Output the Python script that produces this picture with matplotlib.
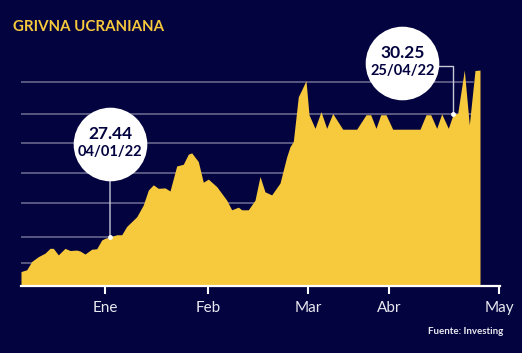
import matplotlib
matplotlib.use("Agg")
import matplotlib.pyplot as plt
from matplotlib.transforms import offset_copy

# ---- data (positions along the time axis) ----
x_pos = [0, 5.7, 10.7, 17.3, 24, 29, 32.3, 37.3, 44, 49, 55.7, 59, 64, 70.7, 75.7,
         80.7, 84, 89, 95.7, 100.7, 105.7, 115.7, 122.3, 127.3, 132.3, 137.3, 144,
         149, 155.7, 162.3, 167.3, 170.7, 177.3, 182.3, 187.3, 195.7, 205.7, 210.7,
         217.3, 220.7, 227.3, 234, 239, 244, 250.7, 259, 265.7, 269, 272.3, 277.3,
         280.7, 285, 288, 294, 300, 305.7, 311.7, 321.7, 335.7, 345, 349.7, 355,
         359.7, 365, 371.7, 399, 405, 409.7, 415.7, 420.7, 427.3, 432.3, 436.7,
         443.3, 448.3, 454, 459]
values = [26.65, 26.69, 26.88, 26.99, 27.07, 27.18, 27.18, 27.03, 27.18, 27.13, 27.14,
          27.12, 27.05, 27.16, 27.17, 27.37, 27.41, 27.44, 27.49, 27.49, 27.68, 27.90,
          28.17, 28.51, 28.63, 28.55, 28.56, 28.49, 29.06, 29.10, 29.33, 29.36, 29.16,
          28.69, 28.76, 28.59, 28.28, 28.06, 28.12, 28.06, 28.06, 28.28, 28.82, 28.47,
          28.40, 28.67, 29.27, 29.50, 29.62, 30.64, 30.80, 31.01, 30.23, 29.92, 30.30,
          29.92, 30.26, 29.90, 29.90, 30.23, 30.23, 29.92, 30.23, 30.23, 29.90, 29.90,
          30.23, 30.23, 29.92, 30.25, 29.92, 30.25, 30.26, 31.25, 30.00, 31.24, 31.25]

tick_pos = [84.3, 187.3, 287.3, 368.3, 478]
tick_labels = ["Ene", "Feb", "Mar", "Abr", "May"]
grid_vals = [26.84, 27.44, 28.21, 28.89, 29.58, 30.25, 30.97]

callout_idx = [17, 71]
callout_value_txt = ["27.44", "30.25"]
callout_date_txt = ["04/01/22", "25/04/22"]

title = "GRIVNA UCRANIANA"
source = "Fuente: Investing"

# ---- style ----
BG = "#03033f"
YELLOW = "#f7c93c"
GRID = "#6f6f94"
WHITE = "#ffffff"
TXT = "#e8e8f0"
plt.rcParams["font.family"] = ["Lato", "DejaVu Sans"]

fig = plt.figure(figsize=(5.22, 3.53), dpi=100, facecolor=BG)
ax = fig.add_axes([21 / 522, 67 / 353, 479 / 522, 226 / 353])
ax.set_facecolor(BG)
ax.set_xlim(0, 479)
ax.set_ylim(26.32, 31.48)

for g in grid_vals:
    ax.plot([0, 452], [g, g], color=GRID, lw=1.1, zorder=1)

ax.fill_between(x_pos, values, 26.32, color=YELLOW, lw=0, zorder=2)

for s in ["top", "right", "left"]:
    ax.spines[s].set_visible(False)
ax.spines["bottom"].set_color(WHITE)
ax.spines["bottom"].set_linewidth(1.6)
ax.spines["bottom"].set_zorder(5)
ax.set_yticks([])
ax.set_xticks(tick_pos)
ax.set_xticklabels(tick_labels)
ax.tick_params(axis="x", colors=WHITE, length=5.5, width=1.5, pad=5.5,
               labelsize=11, labelcolor=TXT)

# ---- callouts ----
circle_off = [(0, 93), (-50.8, 51)]
line_start = [(0, 60), (-50.8, 48.3)]
for k, idx in enumerate(callout_idx):
    x, v = x_pos[idx], values[idx]
    dx, dy = circle_off[k]
    if k == 0:
        ax.annotate("", xy=(x, v), xytext=line_start[k], textcoords="offset pixels",
                    arrowprops=dict(arrowstyle="-", color="#c8c8d8", lw=1,
                                    shrinkA=0, shrinkB=0), zorder=6)
    else:
        ax.annotate("", xy=(x, v), xytext=line_start[k], textcoords="offset pixels",
                    arrowprops=dict(arrowstyle="-", color="#c8c8d8", lw=1,
                                    shrinkA=0, shrinkB=0,
                                    connectionstyle="angle,angleA=0,angleB=90,rad=0"),
                    zorder=6)
    tr = offset_copy(ax.transData, fig=fig, x=dx, y=dy, units="dots")
    ax.plot([x], [v], marker="o", markersize=53, color=WHITE, mew=0,
            transform=tr, zorder=7, clip_on=False)
    ax.plot([x], [v], marker="o", markersize=3.5, color=WHITE, mew=0, zorder=7)
    ax.annotate(callout_value_txt[k], xy=(x, v), xytext=(dx, dy + 10),
                textcoords="offset pixels", ha="center", va="center",
                fontsize=12.5, fontweight="bold", color=BG, zorder=8)
    ax.annotate(callout_date_txt[k], xy=(x, v), xytext=(dx, dy - 8.5),
                textcoords="offset pixels", ha="center", va="center",
                fontsize=10.5, fontweight="bold", color=BG, zorder=8)

fig.text(13 / 522, 1 - 27 / 353, title, color=YELLOW, fontsize=10.8,
         fontweight="bold", ha="left", va="center")
fig.text(503 / 522, 1 - 332 / 353, source, color=TXT, fontsize=7,
         fontweight="bold", ha="right", va="center")

fig.savefig("out.png", dpi=100, facecolor=BG)
